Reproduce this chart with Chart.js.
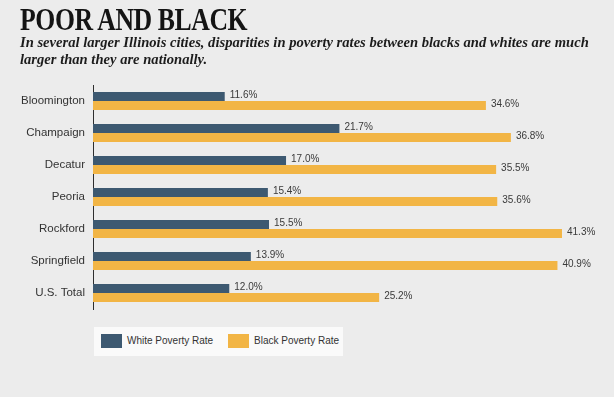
<!DOCTYPE html>
<html>
<head>
<meta charset="utf-8">
<script src="https://cdn.jsdelivr.net/npm/chart.js@4/dist/chart.umd.min.js"></script>
<style>
  html, body { margin: 0; padding: 0; background: #ececec; }
  #wrap { position: relative; width: 614px; height: 397px; overflow: hidden; }
  #title {
    position: absolute; left: 20px; top: 2px; margin: 0;
    font: bold 31px "Liberation Serif", serif; color: #141414;
    transform: scaleX(0.83); transform-origin: left top; white-space: nowrap;
    letter-spacing: -0.5px;
  }
  #sub {
    position: absolute; left: 20px; top: 34px; width: 580px; margin: 0;
    font: italic bold 14.6px/17px "Liberation Serif", serif; color: #1c1c1c;
  }
  #legend {
    position: absolute; left: 94px; top: 327px; width: 249px; height: 29px;
    background: #fafafa; font: 10px "Liberation Sans", Arial, sans-serif; color: #333;
  }
  .item { position: absolute; top: 7px; height: 14px; line-height: 14px; white-space: nowrap; }
  .item i { display: inline-block; width: 21px; height: 14px; vertical-align: top; margin-right: 5px; }
  canvas { position: absolute; left: 0; top: 0; }
</style>
</head>
<body>
<div id="wrap">
  <canvas id="c" width="614" height="397"></canvas>
  <h1 id="title">POOR AND BLACK</h1>
  <p id="sub">In several larger Illinois cities, disparities in poverty rates between blacks and whites are much larger than they are nationally.</p>
  <div id="legend"></div>
</div>
<script>
const cities = ["Bloomington", "Champaign", "Decatur", "Peoria", "Rockford", "Springfield", "U.S. Total"];
const whiteRate = [11.6, 21.7, 17.0, 15.4, 15.5, 13.9, 12.0];
const blackRate = [34.6, 36.8, 35.5, 35.6, 41.3, 40.9, 25.2];

const navy = "#3d5971";
const gold = "#f2b545";

// percent labels just past the end of each bar
const barLabels = {
  id: "barLabels",
  afterDatasetsDraw(chart) {
    let ctx = chart.ctx;
    ctx.save();
    ctx.font = "10px 'Liberation Sans', Arial, sans-serif";
    ctx.fillStyle = "#3a3a3a";
    ctx.textBaseline = "middle";
    chart.data.datasets.forEach((ds, i) => {
      chart.getDatasetMeta(i).data.forEach((bar, j) => {
        ctx.fillText(ds.data[j].toFixed(1) + "%", bar.x + 5, bar.y - 1);
      });
    });
    ctx.restore();
  }
};

const chart = new Chart(document.getElementById("c"), {
  type: "bar",
  data: {
    labels: cities,
    datasets: [
      {label: "White Poverty Rate", data: whiteRate, backgroundColor: navy},
      {label: "Black Poverty Rate", data: blackRate, backgroundColor: gold}
    ]
  },
  options: {
    indexAxis: "y",
    responsive: false,
    animation: false,
    events: [],
    layout: {padding: {top: 85, bottom: 88, left: 0, right: 10}},
    datasets: {bar: {categoryPercentage: 0.56, barPercentage: 1.0}},
    plugins: {legend: {display: false}, tooltip: {enabled: false}},
    scales: {
      x: {display: false, min: 0, max: 45},
      y: {
        grid: {display: false, drawTicks: false},
        border: {display: true, color: "#2e2e2e", width: 1},
        ticks: {
          padding: 8,
          color: "#333",
          font: {family: "'Liberation Sans', Arial, sans-serif", size: 11.5}
        },
        afterFit(axis) { axis.width = 93; }
      }
    }
  },
  plugins: [barLabels]
});

// legend built from the chart's datasets
const legend = document.getElementById("legend");
const lefts = [7, 134];
chart.data.datasets.forEach((ds, i) => {
  let el = document.createElement("div");
  el.className = "item";
  el.style.left = lefts[i] + "px";
  el.innerHTML = '<i style="background:' + ds.backgroundColor + '"></i>' + ds.label;
  legend.appendChild(el);
});
</script>
</body>
</html>
